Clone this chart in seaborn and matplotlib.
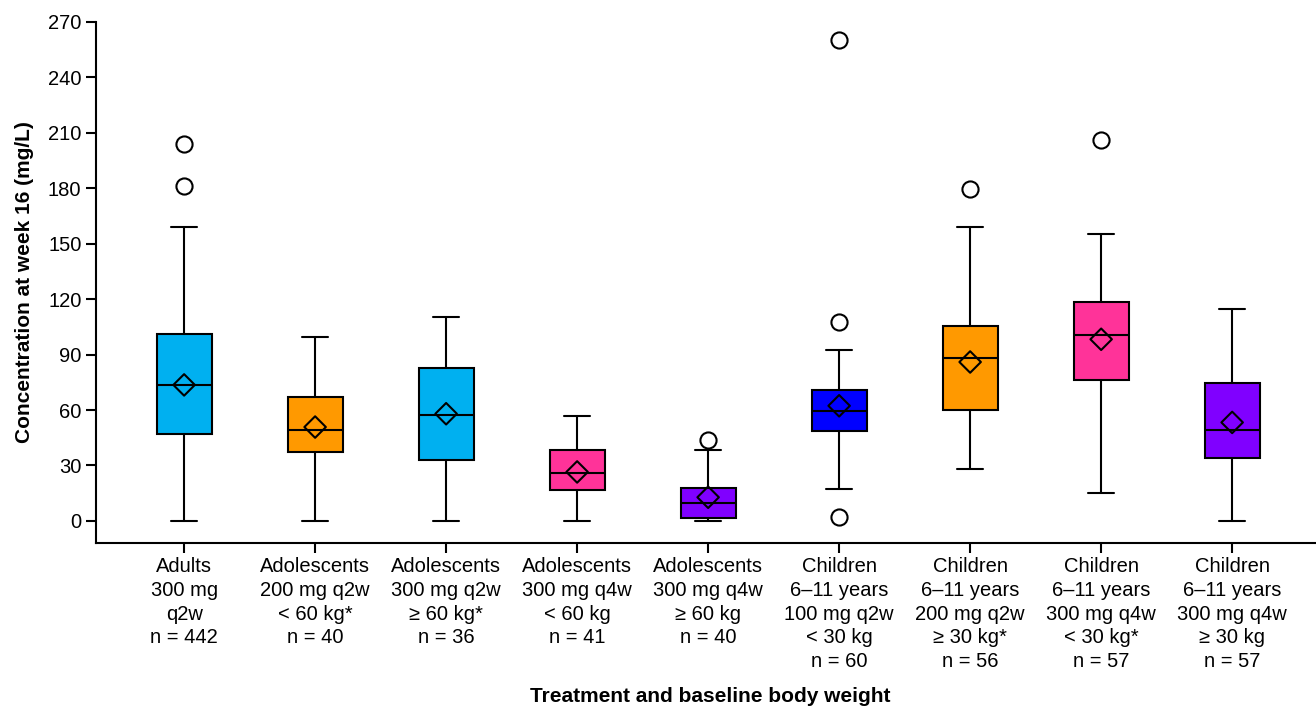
import numpy as np
import pandas as pd
import matplotlib
matplotlib.use("Agg")
import matplotlib.pyplot as plt
import seaborn as sns

# ---- data ----
categories = [
    "Adults\n300 mg\nq2w\nn = 442",
    "Adolescents\n200 mg q2w\n< 60 kg*\nn = 40",
    "Adolescents\n300 mg q2w\n\u2265 60 kg*\nn = 36",
    "Adolescents\n300 mg q4w\n< 60 kg\nn = 41",
    "Adolescents\n300 mg q4w\n\u2265 60 kg\nn = 40",
    "Children\n6\u201311 years\n100 mg q2w\n< 30 kg\nn = 60",
    "Children\n6\u201311 years\n200 mg q2w\n\u2265 30 kg*\nn = 56",
    "Children\n6\u201311 years\n300 mg q4w\n< 30 kg*\nn = 57",
    "Children\n6\u201311 years\n300 mg q4w\n\u2265 30 kg\nn = 57",
]
whisker_low = [0, 0, 0, 0, 0, 17.3, 28, 15, 0]
q1 = [47, 37.3, 33, 16.8, 1.6, 48.7, 60, 76.3, 34]
median = [73.6, 49.4, 57.4, 26, 9.7, 59.5, 88, 100.6, 49.4]
q3 = [101, 67, 82.8, 38.4, 17.9, 71, 105.5, 118.5, 74.7]
whisker_high = [159, 99.6, 110.4, 56.8, 38.4, 92.5, 159, 155, 114.7]
means = [73.6, 50.8, 58, 26.5, 12.8, 62.3, 86, 98.3, 53.3]
outliers = [[204, 181.5], [], [], [], [43.8], [260, 107.7, 2.2], [179.6], [206], []]
colors = ["#00B0F0", "#FF9900", "#00B0F0", "#FF3399", "#8000FF",
          "#0000FF", "#FF9900", "#FF3399", "#8000FF"]
yticks = [0, 30, 60, 90, 120, 150, 180, 210, 240, 270]

# ---- styling ----
sns.set_theme(style="ticks")
plt.rcParams["font.family"] = ["Liberation Sans", "DejaVu Sans"]

fig = plt.figure(figsize=(13.16, 7.09), dpi=100)
ax = fig.add_axes([0.073, 0.234, 0.927, 0.735])

positions = np.arange(len(categories))
stats = []
for i in range(len(categories)):
    stats.append(dict(whislo=whisker_low[i], q1=q1[i], med=median[i], q3=q3[i],
                      whishi=whisker_high[i], mean=means[i], fliers=[]))

lw = 1.5
bp = ax.bxp(stats, positions=positions, widths=0.42, patch_artist=True,
            showfliers=False, showmeans=False, manage_ticks=False,
            boxprops=dict(linewidth=lw, edgecolor="black"),
            medianprops=dict(color="black", linewidth=lw),
            whiskerprops=dict(color="black", linewidth=lw),
            capprops=dict(color="black", linewidth=lw), capwidths=0.2)
for patch, c in zip(bp["boxes"], colors):
    patch.set_facecolor(c)
    patch.set_zorder(2)

# means (diamonds)
mean_df = pd.DataFrame({"pos": positions, "mean": means})
sns.scatterplot(data=mean_df, x="pos", y="mean", marker="D", s=120,
                facecolor="none", edgecolor="black", linewidth=1.5, ax=ax, zorder=5)

# outliers (open circles)
out_pos, out_val = [], []
for i, vals in enumerate(outliers):
    for v in vals:
        out_pos.append(positions[i]); out_val.append(v)
out_df = pd.DataFrame({"pos": out_pos, "val": out_val})
sns.scatterplot(data=out_df, x="pos", y="val", marker="o", s=135,
                facecolor="white", edgecolor="black", linewidth=1.5, ax=ax, zorder=5)

ax.set_xlim(-0.672, 8.64)
ax.set_ylim(-12, 270)
ax.set_yticks(yticks)
ax.set_yticklabels([str(t) for t in yticks])
ax.set_xticks(positions)
ax.set_xticklabels(categories, linespacing=1.32)
ax.tick_params(axis="both", labelsize=14.5, width=1.5, length=7, color="black",
               labelcolor="black", direction="out")
ax.tick_params(axis="x", pad=3)
for s in ["top", "right"]:
    ax.spines[s].set_visible(False)
for s in ["left", "bottom"]:
    ax.spines[s].set_linewidth(1.5)
    ax.spines[s].set_color("black")
ax.spines["left"].set_bounds(-12, 270)

ax.set_ylabel("Concentration at week 16 (mg/L)", fontsize=15, fontweight="bold",
              color="black")
ax.set_xlabel("Treatment and baseline body weight", fontsize=15, fontweight="bold",
              color="black")
ax.yaxis.set_label_coords((34 - 96) / 1220, 0.5)
ax.xaxis.set_label_coords((710 - 96) / 1220, -0.276)

fig.savefig("out.png", dpi=100)
